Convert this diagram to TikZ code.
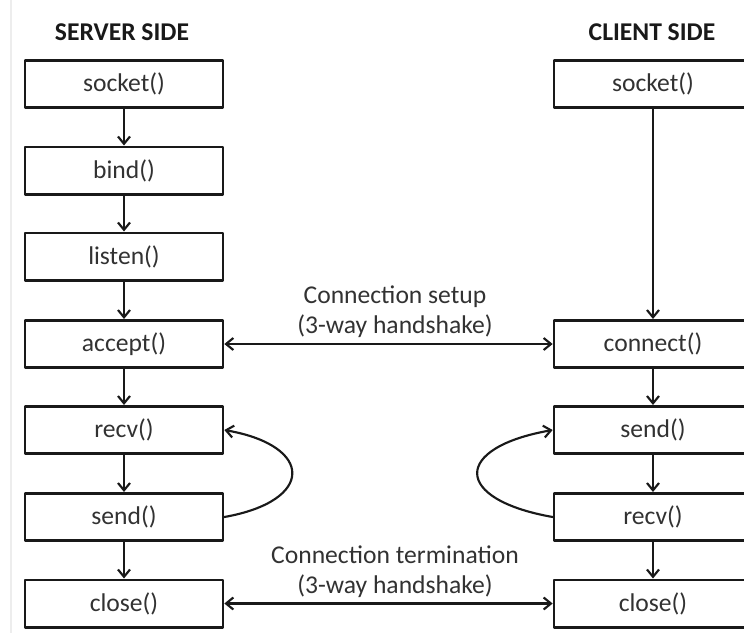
\documentclass[tikz,border=0pt]{standalone}
\usepackage{fontspec}
\setmainfont{Carlito}
\usetikzlibrary{arrows.meta}
\definecolor{inkgray}{RGB}{50,50,50}
\definecolor{linegray}{RGB}{25,25,25}

\begin{document}
\begin{tikzpicture}[x=0.75pt,y=-0.75pt,line cap=round,line join=round,
    call/.style={draw=linegray,line width=2pt,fill=white,minimum width=148.5pt,
        minimum height=35.5pt,inner sep=0pt,text=inkgray,
        font=\fontsize{19.2}{22.5}\selectfont},
    flow/.style={draw=linegray,line width=1.6pt,-{Straight Barb[length=5.5pt,width=9pt]}},
    hand/.style={flow,{Straight Barb[length=5.5pt,width=9pt]}-{Straight Barb[length=5.5pt,width=9pt]}},
    side/.style={text=linegray,font=\fontsize{19.2}{22.5}\selectfont\bfseries},
    note/.style={align=center,text=inkgray,font=\fontsize{19.2}{22.5}\selectfont}]
        \clip (0,0) rectangle (744,633);
        \fill[white] (0,0) rectangle (744,633);
        \draw[black!7,line width=1pt] (11,0) -- (11,633);

        % Server side
        \node[side] (server) at (122,32) {SERVER SIDE};
        \node[call] (ssocket) at (124,84) {socket()};
        \node[call] (sbind) at (124,170.5) {bind()};
        \node[call] (slisten) at (124,256.5) {listen()};
        \node[call] (saccept) at (124,344) {accept()};
        \node[call] (srecv) at (124,430) {recv()};
        \node[call] (ssend) at (124,517) {send()};
        \node[call] (sclose) at (124,603.5) {close()};

        % Client side
        \node[side] (client) at (652,32) {CLIENT SIDE};
        \node[call] (csocket) at (653,84) {socket()};
        \node[call] (cconnect) at (653,344) {connect()};
        \node[call] (csend) at (653,430) {send()};
        \node[call] (crecv) at (653,517) {recv()};
        \node[call] (cclose) at (653,603.5) {close()};

        % Call order
        \foreach \a/\b in {ssocket/sbind,sbind/slisten,slisten/saccept,saccept/srecv,
                srecv/ssend,ssend/sclose,csocket/cconnect,cconnect/csend,
                csend/crecv,crecv/cclose}
            \draw[flow] (\a) -- (\b);

        % Loops
        \draw[flow] (ssend.east) to[out=10,in=-10,looseness=2.7] (srecv.east);
        \draw[flow] (crecv.west) to[out=170,in=190,looseness=3] (csend.west);

        % Handshakes
        \draw[hand] (saccept) -- (cconnect);
        \node[note] (setup) at (395,312)
            {Connection setup\\(3-way handshake)};
        \draw[hand] (sclose) -- (cclose);
        \node[note] (termination) at (395,572)
            {Connection termination\\(3-way handshake)};
    \end{tikzpicture}
\end{document}
